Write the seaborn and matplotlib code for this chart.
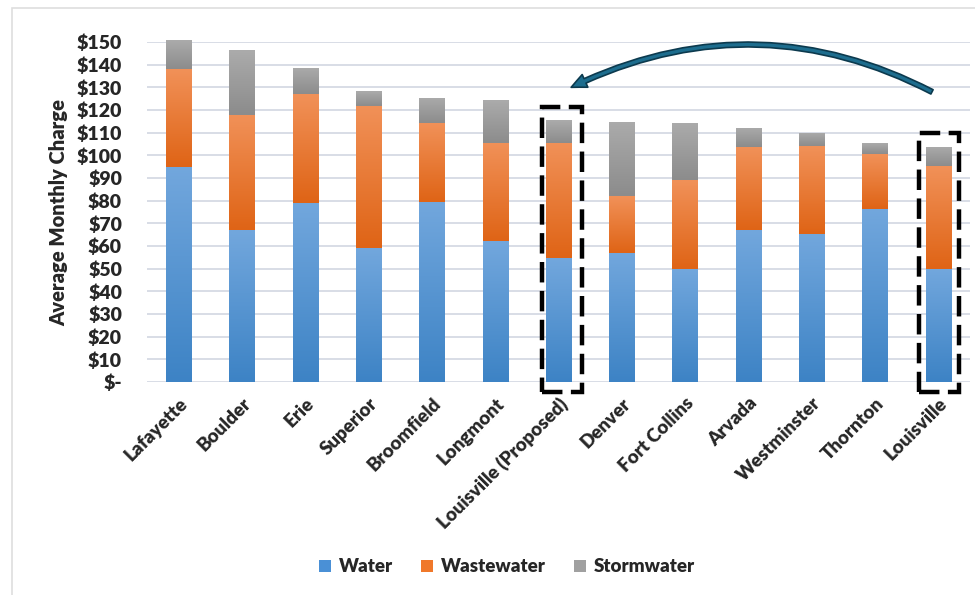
import numpy as np
import pandas as pd
import matplotlib
matplotlib.use("Agg")
import matplotlib.pyplot as plt
import seaborn as sns
from matplotlib.colors import LinearSegmentedColormap
from matplotlib.patches import Patch, Rectangle, FancyArrowPatch

# ── data (average monthly charge, $) ─────────────────────────────────────────
cities = ["Lafayette", "Boulder", "Erie", "Superior", "Broomfield", "Longmont",
          "Louisville (Proposed)", "Denver", "Fort Collins", "Arvada",
          "Westminster", "Thornton", "Louisville"]
water = [95.0, 67.0, 79.0, 59.0, 79.5, 62.0, 54.5, 57.0, 50.0, 67.0, 65.5, 76.5, 50.0]
wastewater = [43.0, 51.0, 48.0, 62.7, 34.7, 43.5, 51.0, 25.0, 39.0, 36.5, 38.5, 24.2, 45.1]
stormwater = [12.7, 28.5, 11.5, 6.5, 11.2, 18.8, 10.0, 32.7, 25.2, 8.5, 6.0, 4.6, 8.7]
yticks = [0, 10, 20, 30, 40, 50, 60, 70, 80, 90, 100, 110, 120, 130, 140, 150]

series = ["Water", "Wastewater", "Stormwater"]
# (bottom colour, top colour) for the Excel-like vertical gradient
grad = {
    "Water":      ("#3d83c5", "#72a7dd"),
    "Wastewater": ("#df6416", "#f19158"),
    "Stormwater": ("#8c8c8c", "#ababab"),
}
legend_cols = {"Water": "#4a90d6", "Wastewater": "#f0782a", "Stormwater": "#a0a0a0"}

df = pd.DataFrame({"City": cities, "Water": water,
                   "Wastewater": wastewater, "Stormwater": stormwater})
df["ww_base"] = df["Water"]
df["sw_base"] = df["Water"] + df["Wastewater"]
df["Total"] = df["sw_base"] + df["Stormwater"]

sns.set_style("white")
plt.rcParams["font.family"] = ["Lato", "DejaVu Sans"]
WEIGHT = "heavy"

fig = plt.figure(figsize=(9.75, 5.95), dpi=100)
fig.patch.set_facecolor("white")
# light frame of the slide panel
fig.patches.append(Rectangle((12 / 975, -0.1), 1.0, 1.1 - 8 / 595,
                             transform=fig.transFigure, fill=False,
                             edgecolor="#dedede", lw=1.2))

ax = fig.add_axes([147 / 975, 213 / 595, 823 / 975, 340 / 595])

bases = {"Water": None, "Wastewater": "ww_base", "Stormwater": "sw_base"}
for s in series:
    kw = {}
    if bases[s] is not None:
        kw["bottom"] = df[bases[s]].values
    sns.barplot(data=df, x="City", y=s, order=cities, color=grad[s][0],
                width=0.4, ax=ax, errorbar=None, saturation=1,
                linewidth=0, clip_on=False, **kw)

# gradient fill clipped to each bar segment
for cont, s in zip(ax.containers, series):
    cmap = LinearSegmentedColormap.from_list(s, [grad[s][0], grad[s][1]])
    g = np.linspace(0, 1, 100).reshape(-1, 1)
    for p in cont.patches:
        x0, y0, w, h = p.get_x(), p.get_y(), p.get_width(), p.get_height()
        im = ax.imshow(g, cmap=cmap, origin="lower", aspect="auto",
                       extent=[x0, x0 + w, y0, y0 + h], zorder=p.get_zorder() + 0.1,
                       interpolation="bicubic")
        im.set_clip_path(p)

ax.set_xlim(-0.5, len(cities) - 0.5)
ax.set_ylim(0, 150)
ax.set_yticks(yticks)
ax.set_yticklabels(["$-" if v == 0 else f"${v}" for v in yticks])
ax.yaxis.grid(True, color="#d8dde6", lw=1.4)
ax.set_axisbelow(True)
sns.despine(ax=ax, left=True, bottom=True)
ax.tick_params(axis="both", length=0)
ax.tick_params(axis="y", pad=18, labelsize=14)
ax.tick_params(axis="x", pad=9, labelsize=13.5)
for t in ax.get_yticklabels():
    t.set_fontweight(WEIGHT)
for t in ax.get_xticklabels():
    t.set_fontweight(WEIGHT)
    t.set_rotation(45)
    t.set_ha("right")
    t.set_va("top")
    t.set_rotation_mode("anchor")
ax.set_xlabel("")
ax.set_ylabel("Average Monthly Charge", fontsize=14.5, fontweight=WEIGHT, labelpad=6)

# dashed boxes around the two Louisville bars
for name, lft, wid in [("Louisville (Proposed)", 0.26, 0.63),
                       ("Louisville", 0.31, 0.63)]:
    i = cities.index(name)
    top = df.loc[i, "Total"] + 6
    ax.add_patch(Rectangle((i - lft, -4.4), wid, top + 4.4, fill=False,
                           edgecolor="black", lw=3.2,
                           linestyle=(0, (4.6, 1.9)), clip_on=False, zorder=6))

# curved arrow from current Louisville to proposed
i_new = cities.index("Louisville (Proposed)")
i_old = cities.index("Louisville")
arrow = FancyArrowPatch((i_old - 0.1, 128), (i_new + 0.2, 130),
                        connectionstyle="arc3,rad=0.25",
                        arrowstyle="simple,head_length=11,head_width=10,tail_width=3.5",
                        facecolor="#1d6d8e", edgecolor="#0c3a4e", lw=1.2,
                        clip_on=False, zorder=7, shrinkA=0, shrinkB=0)
ax.add_patch(arrow)

handles = [Patch(facecolor=legend_cols[s], edgecolor="none", label=s) for s in series]
fig.legend(handles=handles, loc="center", bbox_to_anchor=(507 / 975, 1 - 567 / 595),
           ncol=3, frameon=False, prop={"weight": WEIGHT, "size": 13.5},
           handlelength=0.65, handleheight=0.65, handletextpad=0.4, columnspacing=1.5)

fig.savefig("out.png", dpi=100)
